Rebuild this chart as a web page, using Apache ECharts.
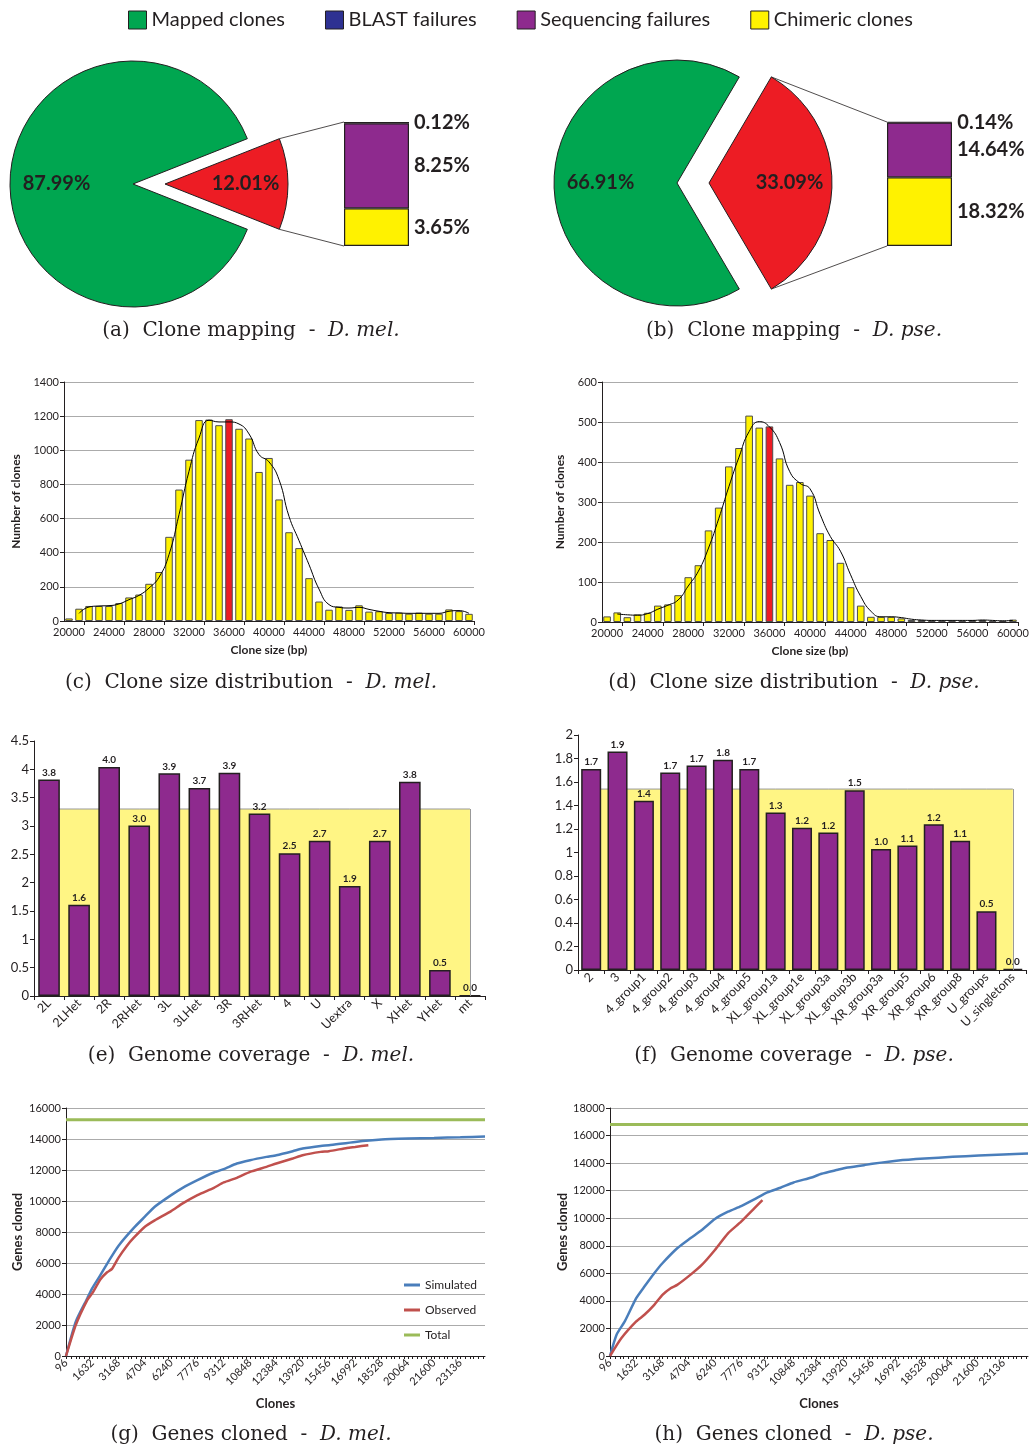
<!DOCTYPE html>
<html><head><meta charset="utf-8">
<script src="https://cdn.jsdelivr.net/npm/echarts@6/dist/echarts.min.js"></script>
<style>html,body{margin:0;padding:0;background:#fff}#c{width:1033px;height:1452px}</style>
</head><body><div id="c"></div>
<script>
// ---------- DATA ----------
const legendNames = ['Mapped clones', 'BLAST failures', 'Sequencing failures', 'Chimeric clones'];
// pie: [mapped, unmapped]
const pieMel = [87.99, 12.01];
const piePse = [66.91, 33.09];
// failures breakdown: [BLAST, Sequencing, Chimeric]
const failMel = [0.12, 8.25, 3.65];
const failPse = [0.14, 14.64, 18.32];

const histBins = [20000,21000,22000,23000,24000,25000,26000,27000,28000,29000,30000,31000,32000,33000,34000,35000,36000,37000,38000,39000,40000,41000,42000,43000,44000,45000,46000,47000,48000,49000,50000,51000,52000,53000,54000,55000,56000,57000,58000,59000,60000];
const histHighlight = 36000;
const histMel = [15,72,88,88,88,105,138,155,218,287,493,770,945,1177,1180,1147,1182,1126,1069,873,955,712,520,427,251,114,66,85,65,92,55,57,47,49,43,49,43,43,68,58,42];
const trendMel = [null,45,82,88,90,100,125,150,193,256,389,623,877,1072,1176,1166,1166,1154,1096,975,932,828,613,471,330,187,96,80,76,80,68,57,49,47,45,45,45,45,57,61,45];
const histPse = [14,24,12,19,23,41,44,67,112,142,229,286,389,435,516,486,489,409,343,350,316,222,205,148,87,41,13,13,13,9,5,5,4,3,3,3,5,5,3,3,6];
const trendPse = [null,20,18,17,21,32,42,55,90,127,185,258,338,412,476,501,488,449,376,347,333,269,214,177,118,64,27,13,13,11,7,5,4,4,4,4,4,5,4,3,4];

const covMelCats = ['2L','2LHet','2R','2RHet','3L','3LHet','3R','3RHet','4','U','Uextra','X','XHet','YHet','mt'];
const covMel = [3.82,1.61,4.04,3.01,3.93,3.67,3.94,3.22,2.52,2.74,1.94,2.74,3.78,0.46,0.01];
const covMelMean = 3.3;
const covPseCats = ['2','3','4_group1','4_group2','4_group3','4_group4','4_group5','XL_group1a','XL_group1e','XL_group3a','XL_group3b','XR_group3a','XR_group5','XR_group6','XR_group8','U_groups','U_singletons'];
const covPse = [1.71,1.86,1.44,1.68,1.74,1.79,1.71,1.34,1.21,1.17,1.53,1.03,1.06,1.24,1.10,0.50,0.01];
const covPseMean = 1.54;

const geneStep = 96;      // clones per category
const geneCatCount = 256; // 96 .. 24576
const simMel = [[96,0],[672,2230],[1344,3730],[1632,4375],[2112,5230],[2688,6300],[3168,7120],[4032,8236],[4704,8987],[5280,9630],[6240,10380],[6912,10850],[7776,11346],[8736,11840],[9312,12054],[10080,12418],[10848,12633],[11808,12847],[12384,12954],[13344,13212],[13920,13383],[14976,13555],[15456,13598],[16992,13812],[18528,13962],[20064,14027],[21600,14070],[23136,14113],[24576,14155]];
const obsMel = [[96,0],[672,2016],[1344,3625],[1632,4054],[2112,4954],[2496,5400],[2784,5620],[3168,6350],[3648,7100],[4032,7600],[4704,8343],[5280,8750],[6240,9351],[6912,9844],[7776,10380],[8736,10853],[9312,11196],[10080,11496],[10848,11882],[11808,12204],[12384,12418],[13344,12740],[13920,12954],[14976,13169],[15456,13212],[16512,13426],[16992,13490],[17760,13598]];
const totalMel = 15240;
const simPse = [[96,0],[480,1544],[960,2510],[1632,4200],[2112,5043],[2688,6009],[3168,6733],[4032,7819],[4800,8543],[5472,9146],[6240,9942],[7008,10473],[7776,10883],[8544,11366],[9312,11873],[10080,12210],[10848,12597],[11904,12959],[12480,13224],[13440,13514],[13920,13658],[14976,13851],[15456,13948],[16992,14189],[18528,14334],[20160,14454],[21696,14551],[23136,14624],[24576,14696]];
const obsPse = [[96,0],[768,1303],[1632,2510],[2112,2992],[2688,3716],[3168,4440],[3648,4923],[4032,5164],[4800,5888],[5472,6612],[6240,7698],[7008,8904],[7776,9749],[8544,10714],[9024,11317]];
const totalPse = 16800;

const capLabels = ['(a)','(b)','(c)','(d)','(e)','(f)','(g)','(h)'];
const capTexts = ['Clone mapping','Clone mapping','Clone size distribution','Clone size distribution','Genome coverage','Genome coverage','Genes cloned','Genes cloned'];
const capSpecies = ['D. mel.','D. pse.','D. mel.','D. pse.','D. mel.','D. pse.','D. mel.','D. pse.'];

// ---------- STYLE ----------
const FONT = 'Lato, "Open Sans", sans-serif';
const SERIF = '"DejaVu Serif", "Liberation Serif", serif';
const INK = '#231f20';
const GREEN = '#00A650', RED = '#ED1C24', BLUE = '#2E3192', PURPLE = '#8E2A8E', YELLOW = '#FFF200', PALE = '#FFF584';
const LBLUE = '#4A7EBB', LRED = '#C0504D', LGREEN = '#9BBB59';
const GRIDC = '#ABABAB';

const geneCats = [];
for (let i = 0; i < geneCatCount; i++) geneCats.push(String(geneStep * (i + 1)));

const PIE_R = 123, PIE_OFF = 32;
const pieCenters = [[133, 184], [677, 183]];

const grids = [
  {left: 344, top: 122, width: 65, height: 124},
  {left: 887, top: 122, width: 65, height: 124},
  {left: 64, top: 382, width: 410, height: 239},
  {left: 602, top: 382, width: 416, height: 240},
  {left: 34, top: 741, width: 451, height: 255},
  {left: 578, top: 735, width: 448, height: 235},
  {left: 66, top: 1108, width: 419, height: 248},
  {left: 610, top: 1108, width: 418, height: 248}
].map(g => Object.assign({outerBoundsMode: 'none', containLabel: false}, g));

const lab = (size, extra) => Object.assign({fontSize: size, color: INK, fontFamily: FONT}, extra || {});
const axLine = {show: true, lineStyle: {color: INK, width: 1}};
const plain = v => String(v);

function histX(gi) {
  return {gridIndex: gi, type: 'category', data: histBins.map(String), boundaryGap: true,
    axisLine: axLine, axisTick: {show: true, interval: (i) => i % 4 === 2, length: 4, lineStyle: {color: INK}},
    axisLabel: lab(11, {interval: 3, margin: 6}),
    name: 'Clone size (bp)', nameLocation: 'middle', nameGap: 23,
    nameTextStyle: lab(12, {fontWeight: 'bold'})};
}
function histY(gi, max, step, gap) {
  return {gridIndex: gi, type: 'value', min: 0, max: max, interval: step,
    axisLine: axLine, axisTick: {show: true, length: 4, lineStyle: {color: INK}},
    splitLine: {show: true, lineStyle: {color: GRIDC, width: 1}},
    axisLabel: lab(11, {margin: 5, formatter: plain}),
    name: 'Number of clones', nameLocation: 'middle', nameGap: gap, nameRotate: 90,
    nameTextStyle: lab(12, {fontWeight: 'bold'})};
}
function covX(gi, cats) {
  return {gridIndex: gi, type: 'category', data: cats, boundaryGap: true,
    axisLine: axLine, axisTick: {show: true, length: 4, lineStyle: {color: INK}},
    axisLabel: lab(12.5, {interval: 0, rotate: 45, margin: 5})};
}
function covY(gi, max, step) {
  return {gridIndex: gi, type: 'value', min: 0, max: max, interval: step,
    axisLine: axLine, axisTick: {show: true, length: 4, lineStyle: {color: INK}},
    splitLine: {show: false}, axisLabel: lab(13, {margin: 5})};
}
function geneX(gi) {
  return {gridIndex: gi, type: 'category', data: geneCats, boundaryGap: false,
    axisLine: axLine,
    axisTick: {show: true, length: 3, lineStyle: {color: INK}, interval: (i) => Math.floor(i * 3 / 8) !== Math.floor((i - 1) * 3 / 8)},
    axisLabel: lab(11, {interval: 15, rotate: 45, margin: 5}),
    name: 'Clones', nameLocation: 'middle', nameGap: 41, nameTextStyle: lab(13, {fontWeight: 'bold'})};
}
function geneY(gi, max, gap) {
  return {gridIndex: gi, type: 'value', min: 0, max: max, interval: 2000,
    axisLine: axLine, axisTick: {show: true, length: 4, lineStyle: {color: INK}},
    splitLine: {show: true, lineStyle: {color: GRIDC, width: 1}},
    axisLabel: lab(11, {margin: 5, formatter: plain}),
    name: 'Genes cloned', nameLocation: 'middle', nameGap: gap, nameRotate: 90,
    nameTextStyle: lab(13, {fontWeight: 'bold'})};
}

function pieSeries(values, center) {
  return {type: 'pie', center: center, radius: [0, PIE_R], startAngle: values[1] * 1.8, clockwise: true,
    selectedMode: 'single', selectedOffset: PIE_OFF, silent: true, emphasis: {disabled: true},
    itemStyle: {borderColor: INK, borderWidth: 1},
    label: {show: true, position: 'inside', formatter: p => p.value.toFixed(2) + '%',
      fontSize: 20, fontWeight: 'bold', color: INK, fontFamily: FONT},
    labelLine: {show: false},
    data: [
      {name: 'Unmapped clones', value: values[1], selected: true, itemStyle: {color: RED}, label: {padding: [0, 0, 0, 32]}},
      {name: 'Mapped clones', value: values[0], itemStyle: {color: GREEN}, label: {padding: [0, 24, 0, 0]}}
    ]};
}
function failSeries(fail, gi, stack) {
  const names = ['BLAST failures', 'Sequencing failures', 'Chimeric clones'];
  const colors = [BLUE, PURPLE, YELLOW];
  const out = [];
  for (let k = 2; k >= 0; k--) {
    out.push({type: 'bar', name: names[k], xAxisIndex: gi, yAxisIndex: gi, stack: stack, barWidth: '100%',
      data: [fail[k]], silent: true,
      itemStyle: {color: colors[k], borderColor: INK, borderWidth: 1.2},
      label: {show: true, position: 'right', distance: 5, formatter: p => p.value.toFixed(2) + '%',
        fontSize: 20, fontWeight: 'bold', color: INK, fontFamily: FONT}});
  }
  return out;
}
function histSeries(vals, trend, gi) {
  const hi = histBins.indexOf(histHighlight);
  return [
    {type: 'bar', xAxisIndex: gi, yAxisIndex: gi, barCategoryGap: '25%', silent: true,
      data: vals.map((v, i) => i === hi ? {value: v, itemStyle: {color: RED}} : v),
      itemStyle: {color: YELLOW, borderColor: '#4d4d4d', borderWidth: 1}},
    {type: 'line', xAxisIndex: gi, yAxisIndex: gi, data: trend, smooth: true, showSymbol: false, silent: true,
      lineStyle: {color: '#000', width: 1}, z: 4}
  ];
}
function covSeries(cats, vals, mean, gi, gap) {
  return [
    {type: 'line', xAxisIndex: gi, yAxisIndex: gi, data: cats.map(() => mean), showSymbol: false, silent: true,
      lineStyle: {color: '#999', width: 1}, areaStyle: {color: PALE, opacity: 1}, z: 1,
      markLine: {silent: true, symbol: 'none', label: {show: false}, lineStyle: {color: '#999', type: 'solid', width: 1},
        data: [[{coord: [cats.length - 1, 0]}, {coord: [cats.length - 1, mean]}]]}},
    {type: 'bar', xAxisIndex: gi, yAxisIndex: gi, data: vals, barCategoryGap: gap, silent: true, z: 3,
      itemStyle: {color: PURPLE, borderColor: INK, borderWidth: 1.5},
      label: {show: true, position: 'top', distance: 2, formatter: p => p.value.toFixed(1),
        fontSize: 10, fontWeight: 'bold', color: INK, fontFamily: FONT}}
  ];
}
const toIdx = arr => arr.map(([c, v]) => [c / geneStep - 1, v]);
function geneSeries(sim, obs, total, gi) {
  return [
    {type: 'line', name: 'Simulated', xAxisIndex: gi, yAxisIndex: gi, data: toIdx(sim), showSymbol: false, smooth: 0.2, silent: true,
      color: LBLUE, lineStyle: {color: LBLUE, width: 2.5}, z: 3},
    {type: 'line', name: 'Observed', xAxisIndex: gi, yAxisIndex: gi, data: toIdx(obs), showSymbol: false, smooth: 0.2, silent: true,
      color: LRED, lineStyle: {color: LRED, width: 2.5}, z: 4},
    {type: 'line', name: 'Total', xAxisIndex: gi, yAxisIndex: gi, data: [[0, total], [geneCatCount - 1, total]], showSymbol: false, silent: true,
      color: LGREEN, lineStyle: {color: LGREEN, width: 3}, z: 2}
  ];
}

const capX = [251, 794];
const capY = [319, 671, 1044, 1423];
const capStyle = {fontFamily: SERIF, fontSize: 20, color: INK, lineHeight: 24, fontWeight: 'normal'};
const titles = capLabels.map((l, i) => ({
  text: '{n|' + l + '  ' + capTexts[i] + '  -  }{i|' + capSpecies[i] + '}',
  left: capX[i % 2], top: capY[Math.floor(i / 2)], textAlign: 'center', padding: 0,
  textStyle: {fontWeight: 'normal', fontFamily: SERIF, fontSize: 20, rich: {
    n: capStyle,
    i: Object.assign({}, capStyle, {fontStyle: 'italic'})}}
}));

const option = {
  animation: false,
  backgroundColor: '#fff',
  title: titles,
  legend: [
    {data: legendNames, left: 128, top: 10, itemWidth: 18, itemHeight: 18, itemGap: 40, icon: 'rect', selectedMode: false,
      itemStyle: {borderColor: INK, borderWidth: 1}, textStyle: lab(20), padding: 0},
    {data: ['Simulated', 'Observed', 'Total'], left: 404, top: 1279, orient: 'vertical', itemWidth: 16, itemHeight: 3,
      itemGap: 13, icon: 'rect', selectedMode: false, textStyle: lab(12), padding: 0, itemStyle: {borderWidth: 0}}
  ],
  grid: grids,
  xAxis: [
    {gridIndex: 0, type: 'category', data: ['a'], show: false},
    {gridIndex: 1, type: 'category', data: ['b'], show: false},
    histX(2), histX(3),
    covX(4, covMelCats), covX(5, covPseCats),
    geneX(6), geneX(7)
  ],
  yAxis: [
    {gridIndex: 0, type: 'value', min: 0, max: failMel.reduce((a, b) => a + b, 0), show: false},
    {gridIndex: 1, type: 'value', min: 0, max: failPse.reduce((a, b) => a + b, 0), show: false},
    histY(2, 1400, 200, 42), histY(3, 600, 100, 36),
    covY(4, 4.5, 0.5), covY(5, 2, 0.2),
    geneY(6, 16000, 42), geneY(7, 18000, 41)
  ],
  series: [].concat(
    [pieSeries(pieMel, pieCenters[0]), pieSeries(piePse, pieCenters[1])],
    failSeries(failMel, 0, 'mel'), failSeries(failPse, 1, 'pse'),
    histSeries(histMel, trendMel, 2), histSeries(histPse, trendPse, 3),
    covSeries(covMelCats, covMel, covMelMean, 4, '28%'), covSeries(covPseCats, covPse, covPseMean, 5, '24%'),
    geneSeries(simMel, obsMel, totalMel, 6), geneSeries(simPse, obsPse, totalPse, 7)
  )
};

const chart = echarts.init(document.getElementById('c'), null, {renderer: 'canvas', width: 1033, height: 1452});
chart.setOption(option);

// connector lines from exploded slice to the breakdown bar
function connectors(center, unmapped, gi) {
  const th = unmapped * 1.8 * Math.PI / 180;
  const ax = center[0] + PIE_OFF, ay = center[1];
  const tx = ax + PIE_R * Math.cos(th);
  const topPt = [tx, ay - PIE_R * Math.sin(th)];
  const botPt = [tx, ay + PIE_R * Math.sin(th)];
  const pTop = chart.convertToPixel({gridIndex: gi}, [0, option.yAxis[gi].max]);
  const pBot = chart.convertToPixel({gridIndex: gi}, [0, 0]);
  const half = grids[gi].width / 2;
  const mk = (a, b) => ({type: 'line', shape: {x1: a[0], y1: a[1], x2: b[0], y2: b[1]}, style: {stroke: INK, lineWidth: 0.8}, silent: true});
  return [mk(topPt, [pTop[0] - half, pTop[1]]), mk(botPt, [pBot[0] - half, pBot[1]])];
}
chart.setOption({graphic: [].concat(connectors(pieCenters[0], pieMel[1], 0), connectors(pieCenters[1], piePse[1], 1))});
</script></body></html>
